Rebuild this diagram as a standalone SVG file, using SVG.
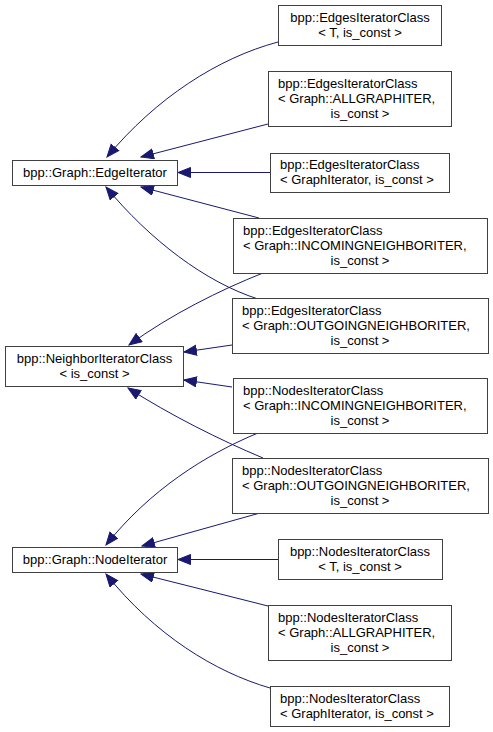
<svg xmlns="http://www.w3.org/2000/svg" width="493" height="732" viewBox="0 0 493 732">
<style>
.n rect{fill:#ffffff;stroke:#404040;stroke-width:1}
.n text{font-family:"Liberation Sans",Arial,Helvetica,sans-serif;font-size:13px;fill:#000000}
.c{text-anchor:middle}
.l{text-anchor:start}
#edges path{fill:none;stroke:#191970;stroke-width:1;marker-end:url(#ah)}
</style>
<defs>
<marker id="ah" markerUnits="userSpaceOnUse" markerWidth="14" markerHeight="12" refX="13" refY="5.5" orient="auto" viewBox="0 0 14 12">
<path d="M0.5,0.5 L13,5.5 L0.5,10.5 Z" fill="#191970" stroke="#191970" stroke-width="1"/>
</marker>
</defs>
<rect width="493" height="732" fill="#ffffff"/>
<g id="edges">
<path d="M278,42 C218,58 156,98 107,157"/>
<path d="M268,124 L141,157"/>
<path d="M270,172.5 L178,172.5"/>
<path d="M259,218 L141,187"/>
<path d="M258,299 C205,282 150,240 106,187"/>
<path d="M263,273 C220,290 170,315 129,345"/>
<path d="M232,345 L184,352"/>
<path d="M232,387 L184,380"/>
<path d="M263,458 C220,440 170,415 128,388"/>
<path d="M258,433 C205,455 150,490 106,545"/>
<path d="M260,513 L142,546"/>
<path d="M278,559.5 L178,559.5"/>
<path d="M268,606 L141,574"/>
<path d="M270,688 C215,672 155,635 106,574"/>
</g>
<g id="edgeIterator" class="n">
<rect x="12.5" y="160.5" width="165" height="25"/>
<text class="c" x="95" y="177">bpp::Graph::EdgeIterator</text>
</g>
<g id="neighborIterator" class="n">
<rect x="5.5" y="346.5" width="178" height="40"/>
<text class="c" x="94.5" y="362.5">bpp::NeighborIteratorClass</text>
<text class="c" x="94.5" y="377.5">&lt; is_const &gt;</text>
</g>
<g id="nodeIterator" class="n">
<rect x="12.5" y="547.5" width="165" height="25"/>
<text class="c" x="95" y="564">bpp::Graph::NodeIterator</text>
</g>
<g id="edgesT" class="n">
<rect x="278.5" y="5.5" width="163" height="40"/>
<text class="c" x="360" y="22">bpp::EdgesIteratorClass</text>
<text class="c" x="360" y="37">&lt; T, is_const &gt;</text>
</g>
<g id="edgesAll" class="n">
<rect x="268.5" y="71.5" width="183" height="55"/>
<text class="l" x="278" y="87.5">bpp::EdgesIteratorClass</text>
<text class="l" x="278" y="102.5">&lt; Graph::ALLGRAPHITER,</text>
<text class="c" x="360" y="117.5">is_const &gt;</text>
</g>
<g id="edgesGraphIt" class="n">
<rect x="270.5" y="153.5" width="179" height="39"/>
<text class="l" x="280" y="169">bpp::EdgesIteratorClass</text>
<text class="l" x="280" y="184">&lt; GraphIterator, is_const &gt;</text>
</g>
<g id="edgesIn" class="n">
<rect x="233.5" y="218.5" width="254" height="55"/>
<text class="l" x="243" y="234.5">bpp::EdgesIteratorClass</text>
<text class="l" x="243" y="249.5">&lt; Graph::INCOMINGNEIGHBORITER,</text>
<text class="c" x="360" y="264.5">is_const &gt;</text>
</g>
<g id="edgesOut" class="n">
<rect x="232.5" y="298.5" width="256" height="55"/>
<text class="l" x="242" y="314.5">bpp::EdgesIteratorClass</text>
<text class="l" x="242" y="329.5">&lt; Graph::OUTGOINGNEIGHBORITER,</text>
<text class="c" x="360" y="344.5">is_const &gt;</text>
</g>
<g id="nodesIn" class="n">
<rect x="233.5" y="378.5" width="254" height="55"/>
<text class="l" x="243" y="394.5">bpp::NodesIteratorClass</text>
<text class="l" x="243" y="409.5">&lt; Graph::INCOMINGNEIGHBORITER,</text>
<text class="c" x="360" y="424.5">is_const &gt;</text>
</g>
<g id="nodesOut" class="n">
<rect x="232.5" y="458.5" width="256" height="55"/>
<text class="l" x="242" y="474.5">bpp::NodesIteratorClass</text>
<text class="l" x="242" y="489.5">&lt; Graph::OUTGOINGNEIGHBORITER,</text>
<text class="c" x="360" y="504.5">is_const &gt;</text>
</g>
<g id="nodesT" class="n">
<rect x="278.5" y="539.5" width="164" height="40"/>
<text class="c" x="360" y="555.5">bpp::NodesIteratorClass</text>
<text class="c" x="360" y="570.5">&lt; T, is_const &gt;</text>
</g>
<g id="nodesAll" class="n">
<rect x="268.5" y="605.5" width="183" height="55"/>
<text class="l" x="278" y="621.5">bpp::NodesIteratorClass</text>
<text class="l" x="278" y="636.5">&lt; Graph::ALLGRAPHITER,</text>
<text class="c" x="360" y="651.5">is_const &gt;</text>
</g>
<g id="nodesGraphIt" class="n">
<rect x="270.5" y="686.5" width="179" height="40"/>
<text class="l" x="280" y="702.5">bpp::NodesIteratorClass</text>
<text class="l" x="280" y="717.5">&lt; GraphIterator, is_const &gt;</text>
</g>
</svg>
